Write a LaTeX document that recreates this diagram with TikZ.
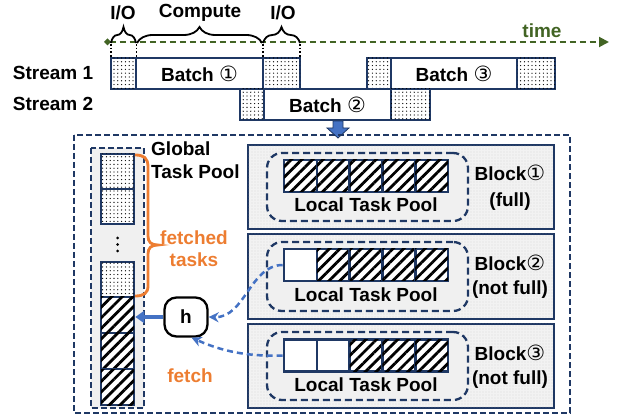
\documentclass[tikz,border=0pt]{standalone}
\usepackage{fontspec}
\setmainfont{Liberation Sans}
\newfontfamily\djv{DejaVu Sans}
\usetikzlibrary{patterns.meta,decorations.pathreplacing,arrows.meta}
\definecolor{navy}{RGB}{31,56,100}
\definecolor{tgreen}{RGB}{66,100,36}
\definecolor{orng}{RGB}{237,125,49}
\definecolor{bblue}{RGB}{68,114,196}
\newcommand{\cd}[1]{{\djv\mdseries\fontsize{21}{20}\selectfont #1}}
\begin{document}
\begin{tikzpicture}[x=1pt,y=-1pt,
  every node/.style={font=\fontsize{19}{22}\selectfont\bfseries, inner sep=0pt},
  tbox/.style={draw=navy, line width=2.6pt, minimum width=#1, fill=white},
  iobox/.style={tbox=#1, postaction={pattern={Dots[distance=3.8pt,radius=0.65pt]}}},
  hatchbox/.style={tbox=#1, postaction={pattern={Lines[angle=45,distance=7.5pt,line width=2.8pt]}}},
  blockbox/.style={draw=navy, line width=2.6pt, fill=black!5, minimum width=306pt,
     postaction={pattern={Dots[distance=3pt,radius=0.35pt]}, pattern color=black!30}},
  poolbox/.style={draw=navy, line width=2.3pt, dash pattern=on 7pt off 4pt, fill=black!6, rounded corners=15pt, minimum width=201pt},
  fetcharrow/.style={draw=bblue, line width=2.5pt, dash pattern=on 6pt off 4pt, -{Stealth[length=10pt,width=10pt]}},
  framedash/.style={navy, line width=2.3pt, dash pattern=on 6pt off 3pt},
  iobrace/.style={line width=1.8pt, decorate, decoration={brace, amplitude=16pt}},
]
\useasboundingbox (0,0) rectangle (618,419);

% timeline
\coordinate (ts) at (104,42);
\coordinate (te) at (609,42);
\draw[tgreen, line width=2pt, dash pattern=on 6pt off 4pt, {Diamond[length=7pt,width=7pt]}-{Triangle[length=10pt,width=10pt]}] (ts) -- (te);
\node[text=tgreen] (time) at (542,31) {time};

% braces
\draw[iobrace] (111,43) -- (136,43);
\draw[iobrace] (137,43) -- (262,43);
\draw[iobrace] (263,43) -- (300,43);
\node (io1l) at (123,13) {I/O};
\node (compl) at (200,13) {Compute};
\node (io2l) at (283,13) {I/O};
\foreach \xx in {111,136.5,263,300}
  \draw[line width=1.7pt, dotted] (\xx,44) -- (\xx,58);

% streams
\node (s1) at (53,73) {Stream 1};
\node (s2) at (53,104) {Stream 2};
\begin{scope}[every node/.append style={minimum height=31pt}]
\node[iobox=25pt] (io1) at (123.5,73.5) {};
\node[tbox=127pt] (b1) at (199.5,73.5) {Batch \cd{①}};
\node[iobox=37pt] (io2) at (281.5,73.5) {};
\node[iobox=24pt] (io3) at (379,73.5) {};
\node[tbox=126pt] (b3) at (454,73.5) {Batch \cd{③}};
\node[iobox=38pt] (io4) at (536,73.5) {};
\node[iobox=24pt] (io5) at (252,104.5) {};
\node[tbox=127pt] (b2) at (327.5,104.5) {Batch \cd{②}};
\node[iobox=39pt] (io6) at (410.5,104.5) {};
\end{scope}

% down arrow
\draw[navy, fill=bblue, line width=0.8pt] (333,121) -- (343,121) -- (343,128) -- (349,128) -- (338,138) -- (327,128) -- (333,128) -- cycle;

% outer dashed frame
\draw[framedash] (74,135) rectangle (570,413);

% global pool column
\draw[framedash, fill=black!6] (91,148) rectangle (144,408);
\begin{scope}[every node/.append style={minimum height=35pt}]
\node[iobox=33pt] (g1) at (117.5,171.5) {};
\node[iobox=33pt] (g2) at (117.5,206.5) {};
\node[iobox=33pt] (g3) at (117.5,279.5) {};
\node[hatchbox=33pt, minimum height=36pt] (g4) at (117.5,315) {};
\node[hatchbox=33pt, minimum height=36pt] (g5) at (117.5,351) {};
\node[hatchbox=33pt, minimum height=36pt] (g6) at (117.5,387) {};
\end{scope}
\foreach \yy in {238,244.5,251} \fill (117.5,\yy) circle (1.5pt);
\node[anchor=north west, align=left, font=\fontsize{19}{23}\selectfont\bfseries] (gl) at (151,142) {Global\\Task Pool};

% orange brace
\draw[orng, line width=2.8pt] (135,155) .. controls (144,155) and (148,158) .. (148,167) -- (148,236) .. controls (148,242) and (151,245) .. (158,245) .. controls (151,245) and (148,248) .. (148,254) -- (148,286) .. controls (148,293) and (144,296) .. (135,296);
\node[text=orng, align=center, font=\fontsize{19}{22}\selectfont\bfseries] (ft) at (194,249) {fetched\\tasks};
\node[text=orng] (fetch) at (190,376) {fetch};

% h node
\node[draw, line width=2.3pt, fill=white, rounded corners=12pt, minimum width=43pt, minimum height=39pt] (h) at (186,317) {h};
\draw[bblue, line width=3.2pt, -{Triangle[length=9pt,width=12pt]}] (h.west) -- (h.west -| g4.east);

% blocks
\node[blockbox, minimum height=84pt] (blk1) at (401,187) {};
\node[blockbox, minimum height=85pt] (blk2) at (401,276.5) {};
\node[blockbox, minimum height=84pt] (blk3) at (401,366) {};
\node[poolbox, minimum height=68pt] (p1) at (367.5,187) {};
\node[poolbox, minimum height=69pt] (p2) at (367.5,276.5) {};
\node[poolbox, minimum height=68pt] (p3) at (367.5,366) {};

\begin{scope}[every node/.append style={minimum height=32pt}]
\foreach \i/\xx in {1/300.4,2/333.2,3/366,4/398.8,5/431.6}
  \node[hatchbox=32.8pt] (c1\i) at (\xx,176) {};
\node[tbox=32.8pt] (c21) at (300.4,265) {};
\foreach \i/\xx in {2/333.2,3/366,4/398.8,5/431.6}
  \node[hatchbox=32.8pt] (c2\i) at (\xx,265) {};
\node[tbox=32.8pt] (c31) at (300.4,355.5) {};
\node[tbox=32.8pt] (c32) at (333.2,355.5) {};
\foreach \i/\xx in {3/366,4/398.8,5/431.6}
  \node[hatchbox=32.8pt] (c3\i) at (\xx,355.5) {};
\end{scope}
\node (lt1) at (366,205) {Local Task Pool};
\node (lt2) at (366,295) {Local Task Pool};
\node (lt3) at (366,385) {Local Task Pool};

\node[align=center, font=\fontsize{19}{26}\selectfont\bfseries] (bl1) at (510,188) {Block\cd{①}\\(full)};
\node[align=center, font=\fontsize{19}{24}\selectfont\bfseries] (bl2) at (510,277) {Block\cd{②}\\(not full)};
\node[align=center, font=\fontsize{19}{24}\selectfont\bfseries] (bl3) at (510,366.5) {Block\cd{③}\\(not full)};

% fetch arrows
\draw[fetcharrow] (c21.west) .. controls (250,265) and (245,318) .. (h.east);
\draw[fetcharrow] (c31.west) .. controls (240,357) and (215,348) .. (h.-75);
\end{tikzpicture}
\end{document}
